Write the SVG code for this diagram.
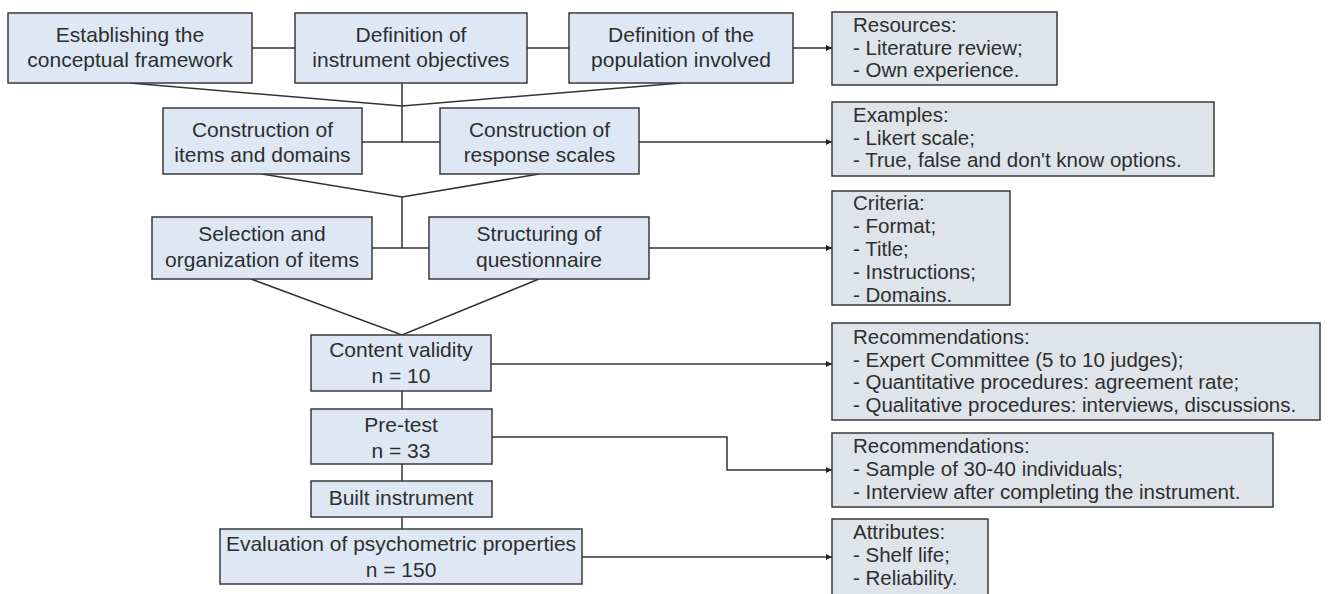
<svg xmlns="http://www.w3.org/2000/svg" width="1333" height="594" viewBox="0 0 1333 594">
<defs>
<style>
.m{fill:#dde8f4;stroke:#3a3a3a;stroke-width:1.5}
.s{fill:#dfe4ea;stroke:#3a3a3a;stroke-width:1.5}
.t{font-family:"Liberation Sans",Arial,sans-serif;font-size:21px;fill:#2e2e2e;text-anchor:middle}
.st{font-family:"Liberation Sans",Arial,sans-serif;font-size:20.5px;fill:#2e2e2e}
.c{fill:none;stroke:#333;stroke-width:1.5}
</style>
<marker id="ah" viewBox="0 0 10 10" refX="10" refY="5" markerWidth="6" markerHeight="6" markerUnits="userSpaceOnUse" orient="auto"><path d="M0,0 L10,5 L0,10 z" fill="#222"/></marker>
</defs>
<g id="connectors">
<line class="c" x1="252" y1="48" x2="295" y2="48"/>
<line class="c" x1="527" y1="48" x2="569" y2="48"/>
<line class="c" x1="793" y1="48" x2="832" y2="48" marker-end="url(#ah)"/>
<line class="c" x1="402" y1="83" x2="402" y2="142"/>
<polyline class="c" points="130,83 402,106 681,83"/>
<line class="c" x1="362" y1="142" x2="440" y2="142"/>
<line class="c" x1="639" y1="142" x2="832" y2="142" marker-end="url(#ah)"/>
<polyline class="c" points="262,174 402,197 539,174"/>
<line class="c" x1="402" y1="197" x2="402" y2="248"/>
<line class="c" x1="372" y1="248" x2="429" y2="248"/>
<line class="c" x1="649" y1="248" x2="832" y2="248" marker-end="url(#ah)"/>
<polyline class="c" points="251,279 402,335 539,279"/>
<line class="c" x1="491" y1="364" x2="832" y2="364" marker-end="url(#ah)"/>
<line class="c" x1="402" y1="391" x2="402" y2="409"/>
<line class="c" x1="402" y1="464" x2="402" y2="481"/>
<line class="c" x1="402" y1="517" x2="402" y2="529"/>
<polyline class="c" points="492,437 727,437 727,470 832,470" marker-end="url(#ah)"/>
<line class="c" x1="582" y1="557" x2="832" y2="557" marker-end="url(#ah)"/>
</g>
<g id="n1"><rect class="m" x="8" y="13" width="244" height="70"/><text class="t" x="130" y="42">Establishing the</text><text class="t" x="130" y="67">conceptual framework</text></g>
<g id="n2"><rect class="m" x="295" y="13" width="232" height="70"/><text class="t" x="411" y="42">Definition of</text><text class="t" x="411" y="67">instrument objectives</text></g>
<g id="n3"><rect class="m" x="569" y="13" width="224" height="70"/><text class="t" x="681" y="42">Definition of the</text><text class="t" x="681" y="67">population involved</text></g>
<g id="n4"><rect class="m" x="163" y="108" width="199" height="66"/><text class="t" x="262.5" y="137">Construction of</text><text class="t" x="262.5" y="162">items and domains</text></g>
<g id="n5"><rect class="m" x="440" y="108" width="199" height="66"/><text class="t" x="539.5" y="137">Construction of</text><text class="t" x="539.5" y="162">response scales</text></g>
<g id="n6"><rect class="m" x="152" y="217" width="220" height="62"/><text class="t" x="262" y="241">Selection and</text><text class="t" x="262" y="267">organization of items</text></g>
<g id="n7"><rect class="m" x="429" y="217" width="220" height="62"/><text class="t" x="539" y="241">Structuring of</text><text class="t" x="539" y="267">questionnaire</text></g>
<g id="n8"><rect class="m" x="311" y="335" width="180" height="56"/><text class="t" x="401" y="357">Content validity</text><text class="t" x="401" y="383">n = 10</text></g>
<g id="n9"><rect class="m" x="311" y="409" width="181" height="55"/><text class="t" x="401" y="432">Pre-test</text><text class="t" x="401" y="458">n = 33</text></g>
<g id="n10"><rect class="m" x="311" y="481" width="181" height="36"/><text class="t" x="401" y="505">Built instrument</text></g>
<g id="n11"><rect class="m" x="220" y="529" width="362" height="55"/><text class="t" x="401" y="551">Evaluation of psychometric properties</text><text class="t" x="401" y="577">n = 150</text></g>
<g id="r1"><rect class="s" x="832" y="12" width="225" height="73"/><text class="st" x="853" y="32">Resources:</text><text class="st" x="853" y="55">- Literature review;</text><text class="st" x="853" y="77">- Own experience.</text></g>
<g id="r2"><rect class="s" x="832" y="102" width="382" height="74"/><text class="st" x="853" y="122">Examples:</text><text class="st" x="853" y="145">- Likert scale;</text><text class="st" x="853" y="167">- True, false and don't know options.</text></g>
<g id="r3"><rect class="s" x="832" y="191" width="178" height="114"/><text class="st" x="853" y="210">Criteria:</text><text class="st" x="853" y="233">- Format;</text><text class="st" x="853" y="256">- Title;</text><text class="st" x="853" y="279">- Instructions;</text><text class="st" x="853" y="302">- Domains.</text></g>
<g id="r4"><rect class="s" x="832" y="323" width="488" height="97"/><text class="st" x="853" y="344">Recommendations:</text><text class="st" x="853" y="367">- Expert Committee (5 to 10 judges);</text><text class="st" x="853" y="389">- Quantitative procedures: agreement rate;</text><text class="st" x="853" y="412">- Qualitative procedures: interviews, discussions.</text></g>
<g id="r5"><rect class="s" x="832" y="433" width="441" height="74"/><text class="st" x="853" y="453">Recommendations:</text><text class="st" x="853" y="476">- Sample of 30-40 individuals;</text><text class="st" x="853" y="499">- Interview after completing the instrument.</text></g>
<g id="r6"><rect class="s" x="832" y="519" width="156" height="90"/><text class="st" x="853" y="539">Attributes:</text><text class="st" x="853" y="562">- Shelf life;</text><text class="st" x="853" y="585">- Reliability.</text></g>
</svg>
